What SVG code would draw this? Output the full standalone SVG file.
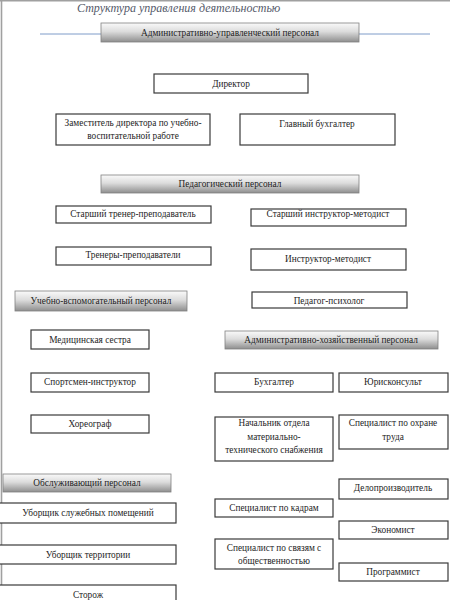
<svg xmlns="http://www.w3.org/2000/svg" width="450" height="600" viewBox="0 0 450 600" font-family="Liberation Serif, Times New Roman, serif">
<defs>
<linearGradient id="hg" x1="0" y1="0" x2="0" y2="1">
<stop offset="0" stop-color="#fafafa"/>
<stop offset="0.45" stop-color="#dcdcdc"/>
<stop offset="1" stop-color="#8e8e8e"/>
</linearGradient>
</defs>
<style>
.b{fill:#fff;stroke:#3a3a3a;stroke-width:1.2}
.h{fill:url(#hg);stroke:#808080;stroke-width:0.8}
text{font-family:'Liberation Serif','Times New Roman',serif;font-size:9.3px;fill:#1e1e1e;text-anchor:middle}
.t{font-size:12px;font-style:italic;fill:#555a6a;text-anchor:start}
</style>
<rect width="450" height="600" fill="#fff"/>
<line x1="0" y1="0.8" x2="450" y2="0.8" stroke="#a0a0a0" stroke-width="1.6"/>
<line x1="1.5" y1="0" x2="1.5" y2="600" stroke="#a0a0a0" stroke-width="1.6"/>
<text class="t" x="77" y="12">Структура управления деятельностью</text>
<line x1="40" y1="34" x2="101" y2="34" stroke="#7f9cc9" stroke-width="1"/>
<line x1="359" y1="34" x2="430" y2="34" stroke="#7f9cc9" stroke-width="1"/>
<g id="connectors"></g>

<g id="h-aup"><rect class="h" x="101" y="23" width="258" height="19"/><text x="230" y="36">Административно-управленческий персонал</text></g>
<g id="director"><rect class="b" x="154" y="74" width="154" height="19"/><text x="231" y="87">Директор</text></g>
<g id="deputy"><rect class="b" x="56" y="114" width="154" height="31"/><text x="133" y="126">Заместитель директора по учебно-</text><text x="133" y="139">воспитательной работе</text></g>
<g id="chief-acc"><rect class="b" x="240" y="114" width="155" height="31"/><text x="317" y="127">Главный бухгалтер</text></g>

<g id="h-ped"><rect class="h" x="101" y="175" width="258" height="18"/><text x="230" y="187">Педагогический персонал</text></g>
<g id="sr-trainer"><rect class="b" x="56" y="206" width="155" height="17"/><text x="133" y="217">Старший тренер-преподаватель</text></g>
<g id="sr-instr"><rect class="b" x="251" y="209" width="155" height="17"/><text x="328" y="217">Старший инструктор-методист</text></g>
<g id="trainers"><rect class="b" x="56" y="247" width="155" height="18"/><text x="133" y="258">Тренеры-преподаватели</text></g>
<g id="instr"><rect class="b" x="251" y="249" width="155" height="21"/><text x="328" y="262">Инструктор-методист</text></g>
<g id="h-uvp"><rect class="h" x="15" y="291" width="172" height="20"/><text x="101" y="304">Учебно-вспомогательный персонал</text></g>
<g id="psych"><rect class="b" x="252" y="292" width="155" height="16"/><text x="329" y="304">Педагог-психолог</text></g>

<g id="nurse"><rect class="b" x="31" y="330" width="118" height="19"/><text x="90" y="343">Медицинская сестра</text></g>
<g id="h-ahp"><rect class="h" x="225" y="331" width="213" height="18"/><text x="331" y="343">Административно-хозяйственный персонал</text></g>
<g id="sport-instr"><rect class="b" x="31" y="373" width="118" height="19"/><text x="90" y="385">Спортсмен-инструктор</text></g>
<g id="accountant"><rect class="b" x="215" y="373" width="118" height="19"/><text x="274" y="385">Бухгалтер</text></g>
<g id="lawyer"><rect class="b" x="339" y="373" width="109" height="19"/><text x="393" y="385">Юрисконсульт</text></g>
<g id="choreo"><rect class="b" x="31" y="415" width="118" height="18"/><text x="90" y="427">Хореограф</text></g>
<g id="supply"><rect class="b" x="215" y="417" width="118" height="44"/><text x="274" y="426">Начальник отдела</text><text x="274" y="440">материально-</text><text x="274" y="453">технического снабжения</text></g>
<g id="safety"><rect class="b" x="339" y="415" width="109" height="34"/><text x="393" y="426">Специалист по охране</text><text x="393" y="440">труда</text></g>

<g id="h-serv"><rect class="h" x="3" y="474" width="168" height="18"/><text x="87" y="486">Обслуживающий персонал</text></g>
<g id="clerk"><rect class="b" x="339" y="479" width="109" height="20"/><text x="393" y="491">Делопроизводитель</text></g>
<g id="cleaner1"><rect class="b" x="-2" y="503" width="178" height="20"/><text x="88" y="516">Уборщик служебных помещений</text></g>
<g id="hr"><rect class="b" x="215" y="499" width="118" height="18"/><text x="274" y="511">Специалист по кадрам</text></g>
<g id="economist"><rect class="b" x="339" y="521" width="109" height="18"/><text x="393" y="533">Экономист</text></g>
<g id="pr"><rect class="b" x="215" y="539" width="118" height="30"/><text x="274" y="551">Специалист по связям с</text><text x="274" y="564">общественностью</text></g>
<g id="cleaner2"><rect class="b" x="-2" y="545" width="178" height="19"/><text x="88" y="558">Уборщик территории</text></g>
<g id="programmer"><rect class="b" x="339" y="563" width="109" height="18"/><text x="393" y="575">Программист</text></g>
<g id="guard"><rect class="b" x="-2" y="585" width="178" height="20"/><text x="88" y="598">Сторож</text></g>
</svg>
